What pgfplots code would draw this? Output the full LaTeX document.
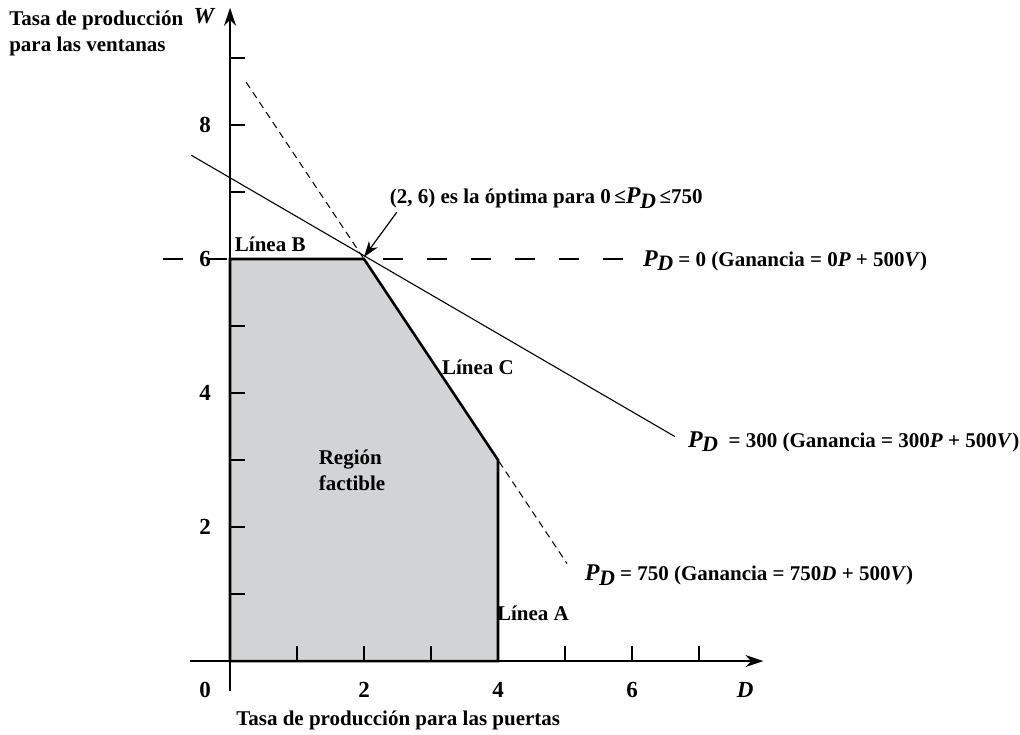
\documentclass[border=0pt]{standalone}
\usepackage{fontspec}
\setmainfont{Liberation Serif}
\usepackage{pgfplots}
\pgfplotsset{compat=1.18}
\usetikzlibrary{arrows.meta}
\definecolor{regiongray}{RGB}{209,211,213}
\newcommand{\PD}{{\fontsize{12}{12}\selectfont\textit{P}}\kern-0.3pt\raisebox{-0.45ex}{\fontsize{11}{12}\selectfont\textit{D}}}
\begin{document}
\begin{tikzpicture}[font=\fontsize{10.5}{13}\selectfont\bfseries]
\begin{axis}[
  x=33.5pt, y=33.5pt,
  xmin=-0.6, xmax=7.96, ymin=-0.45, ymax=9.75,
  axis lines=middle,
  axis line style={line width=0.75pt, -{Stealth[length=9pt,width=6pt]}},
  xtick={1,...,7}, ytick={1,...,9},
  xticklabels={}, yticklabels={},
  tick align=inside,
  major tick length=7.5pt,
  tick style={line width=0.7pt, black},
  clip=false,
  axis on top=true,
  every node/.append style={inner sep=0pt},
]
% horizontal dashed line P_D = 0
\addplot[black, line width=0.55pt, dash pattern=on 10pt off 12pt] coordinates {(-1.0,6) (5.9,6)};
% dashed line P_D = 750 (W = 9 - 1.5 D)
\addplot[black, line width=0.5pt, dash pattern=on 3.5pt off 2.5pt] coordinates {(0.24,8.64) (5.03,1.455)};
% solid line P_D = 300
\addplot[black, line width=0.55pt] coordinates {(-0.58,7.55) (6.64,3.35)};
% feasible region
\addplot[fill=regiongray, draw=black, line width=1.3pt, line join=miter] coordinates {(0,0) (4,0) (4,3) (2,6) (0,6)} -- cycle;

% annotation arrow
\draw[black, line width=0.6pt, -{Stealth[length=8pt,width=5.5pt]}] (axis cs:2.49,6.70) -- (axis cs:2.0,6.03);

% tick labels
\begin{scope}[font=\fontsize{11.5}{13}\selectfont\bfseries]
\node at (axis cs:-0.37,8) {8};
\node at (axis cs:-0.37,6) {6};
\node at (axis cs:-0.37,4) {4};
\node at (axis cs:-0.37,2) {2};
\node at (axis cs:-0.37,-0.43) {0};
\node at (axis cs:2,-0.43) {2};
\node at (axis cs:4,-0.43) {4};
\node at (axis cs:6,-0.43) {6};
\node at (axis cs:7.69,-0.43) {\textit{D}};
\node at (axis cs:-0.38,9.63) {\textit{W}};
\end{scope}

% axis titles
\node at (axis cs:2.51,-0.88) {Tasa de producción para las puertas};
\node[anchor=west, align=left] at (axis cs:-3.40,9.36) {Tasa de producción\\para las ventanas};

% labels
\node at (axis cs:0.6,6.22) {Línea B};
\node at (axis cs:3.70,4.39) {Línea C};
\node at (axis cs:4.52,0.71) {Línea A};
\node[anchor=west, align=left] at (axis cs:1.22,2.84) {Región\\factible};
\node[anchor=west] at (axis cs:2.28,6.91) {(2, 6) es la óptima para 0\,≤\PD\,≤750};
\node[anchor=west] at (axis cs:6.06,5.97) {\PD{} = 0 (Ganancia = 0\textit{P} + 500\textit{V})};
\node[anchor=west] at (axis cs:6.73,3.27) {\PD{}\ \ = 300 (Ganancia = 300\textit{P} + 500\textit{V})};
\node[anchor=west] at (axis cs:5.19,1.28) {\PD{} = 750 (Ganancia = 750\textit{D} + 500\textit{V})};

\coordinate (bl) at (axis cs:-3.433,-1.09);
\coordinate (tr) at (axis cs:11.79,9.866);
\end{axis}
\pgfresetboundingbox
\path (bl) rectangle (tr);
\end{tikzpicture}
\end{document}
